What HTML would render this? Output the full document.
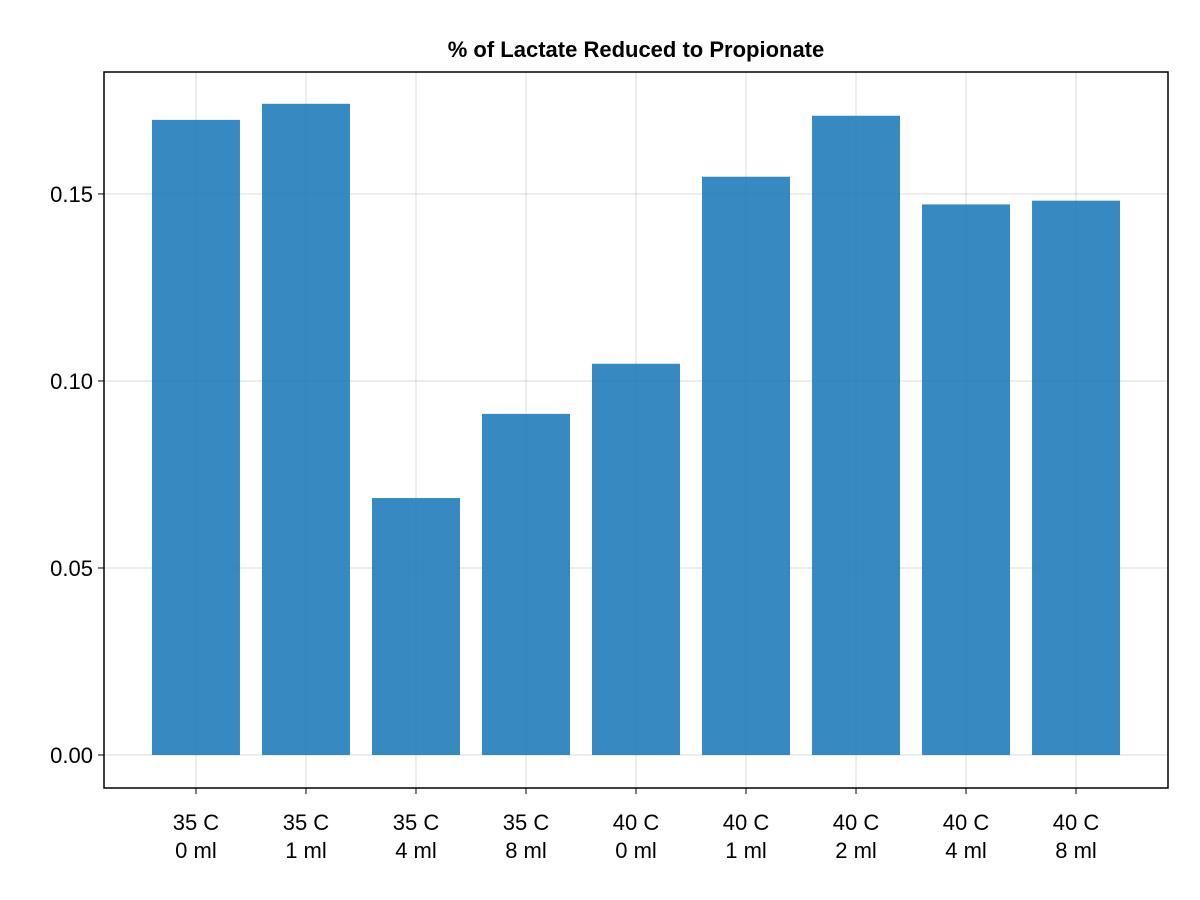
<!DOCTYPE html>
<html><head><meta charset="utf-8"><style>
body{margin:0;background:#fff;}
svg{display:block;font-family:"Liberation Sans",sans-serif;}
</style></head><body>
<svg id="chart" width="1200" height="900">
<text x="636" y="57" text-anchor="middle" font-size="22" font-weight="bold">% of Lactate Reduced to Propionate</text>
<g id="grid"></g><g id="bars"></g><g id="axes"></g>
<rect x="104" y="72" width="1064" height="716" fill="none" stroke="#000" stroke-width="1.5"/>
</svg>
<script>
const categories=["35 C\n0 ml","35 C\n1 ml","35 C\n4 ml","35 C\n8 ml","40 C\n0 ml","40 C\n1 ml","40 C\n2 ml","40 C\n4 ml","40 C\n8 ml"];
const values=[0.1698,0.1741,0.0687,0.0912,0.1046,0.1546,0.1709,0.1472,0.1482];
const yTicks=[0,0.05,0.10,0.15];
const yTickLabels=["0.00","0.05","0.10","0.15"];
const L=104,R=1168,T=72,B=788;
const xMin=-0.836,xMax=categories.length-1+0.836,yMin=-0.00882,yMax=0.1826;
const xs=i=>L+(i-xMin)/(xMax-xMin)*(R-L);
const ys=v=>B-(v-yMin)/(yMax-yMin)*(B-T);
const NS="http://www.w3.org/2000/svg";
const grid=document.getElementById('grid'),bars=document.getElementById('bars'),axes=document.getElementById('axes');
function mk(tag,a,p){const e=document.createElementNS(NS,tag);for(const k in a)e.setAttribute(k,a[k]);p.appendChild(e);return e;}
const bw=(xs(1)-xs(0))*0.8;
categories.forEach((c,i)=>{
  const x=xs(i);
  const g=mk('line',{x1:x,x2:x,y1:T,y2:B,stroke:'#000','stroke-opacity':0.14,'stroke-width':1},grid);
  
  
  const r=mk('rect',{x:x-bw/2,y:Math.min(ys(values[i]),ys(0)),width:bw,height:Math.abs(ys(0)-ys(values[i])),fill:'#1a7ab8','fill-opacity':0.88},bars);
  
  
  const tk=mk('line',{x1:x,x2:x,y1:B,y2:B+6,stroke:'#000','stroke-width':1},axes);
  
  
  const parts=c.split('\n');
  parts.forEach((p,j)=>{
    const t=mk('text',{x:x,y:830+j*28,'text-anchor':'middle','font-size':22},axes);
    t.textContent=p;
    
    
  });
});
yTicks.forEach((v,i)=>{
  const y=ys(v);
  const g=mk('line',{x1:L,x2:R,y1:y,y2:y,stroke:'#000','stroke-opacity':0.14,'stroke-width':1},grid);
  
  
  const tk=mk('line',{x1:L-6,x2:L,y1:y,y2:y,stroke:'#000','stroke-width':1},axes);
  
  
  const t=mk('text',{x:L-11,y:y+8,'text-anchor':'end','font-size':22},axes);
  t.textContent=yTickLabels[i];
  
  
});
</script>
</body></html>
